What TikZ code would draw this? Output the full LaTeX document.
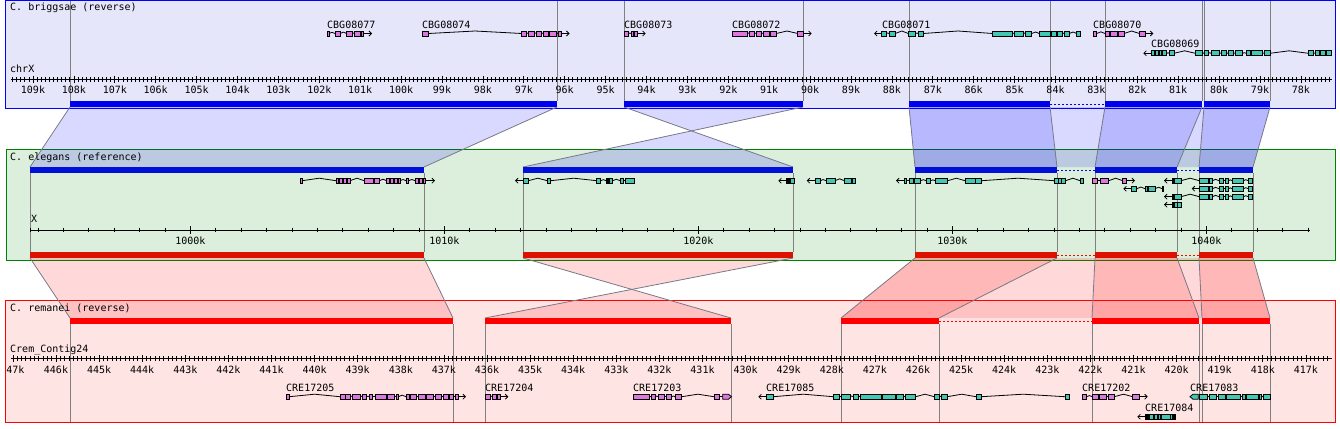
\documentclass[tikz,border=0pt]{standalone}
\usepackage{fontspec}
\setmainfont{DejaVu Sans Mono}
\usetikzlibrary{arrows.meta}
\definecolor{topfill}{RGB}{230,230,250}
\definecolor{midfill}{RGB}{220,238,220}
\definecolor{botfill}{RGB}{255,228,228}
\definecolor{topborder}{RGB}{0,0,255}
\definecolor{midborder}{RGB}{0,128,0}
\definecolor{botborder}{RGB}{255,0,0}
\definecolor{tbar}{RGB}{0,0,240}
\definecolor{mbbar}{RGB}{0,16,216}
\definecolor{mrbar}{RGB}{221,17,0}
\definecolor{brbar}{RGB}{255,0,0}
\definecolor{gmag}{RGB}{221,119,221}
\definecolor{gcyan}{RGB}{64,200,180}
\definecolor{edgegray}{RGB}{120,120,135}
\definecolor{vgray}{RGB}{128,128,128}
\tikzset{
  exonst/.style={draw=black,line width=0.8pt},
  intronst/.style={draw=black,line width=0.8pt},
  rulerst/.style={draw=black,line width=0.8pt},
  lbl/.style={inner sep=0pt,anchor=base west,font=\fontsize{10}{12}\selectfont},
  tlbl/.style={inner sep=0pt,anchor=base,font=\fontsize{10}{12}\selectfont},
  vline/.style={draw=vgray,line width=0.8pt},
  edgeln/.style={draw=edgegray,line width=0.8pt},
  bpoly/.style={fill=blue,fill opacity=0.15},
  rpoly/.style={fill=red,fill opacity=0.15},
  dotb/.style={draw=tbar,line width=1pt,dash pattern=on 2pt off 2pt},
  dotr/.style={draw=brbar,line width=1pt,dash pattern=on 2pt off 2pt},
}
\newcommand\gene[3]{%
  \foreach \a/\b [remember=\b as \pb (initially -1)] in {#3} {%
    \ifdim\pb pt>0pt
      \pgfmathsetmacro\hh{min(2.5,(\a-\pb)/5)}%
      \draw[intronst] (\pb,#1) -- ({(\pb+\a)/2},{#1-\hh}) -- (\a,#1);
    \fi
  }%
  \foreach \a/\b in {#3} {\draw[exonst,fill=#2] (\a,{#1-2.5}) rectangle (\b,{#1+2.5});}%
}
\newcommand\garr[3]{\draw[intronst,-{Straight Barb[length=2.5pt,width=5pt]}] (#1,#3) -- (#2,#3);}
\newcommand\gbx[3]{\draw[exonst,fill=black] (#1,{#3-2.5}) rectangle (#2,{#3+2.5});}
\begin{document}
\begin{tikzpicture}[x=1pt,y=-1pt]
\useasboundingbox[fill=white] (0,0) rectangle (1340,428);
% panels
\draw[draw=topborder,fill=topfill,line width=1pt] (5.5,1) rectangle (1335.5,108.5);
\draw[draw=midborder,fill=midfill,line width=1pt] (6,149.3) rectangle (1335,260);
\draw[draw=botborder,fill=botfill,line width=1pt] (5.5,300.7) rectangle (1335.5,422.3);
% top -> middle polygons
\fill[bpoly] (70,107) -- (557,107) -- (424,167) -- (30,167) -- cycle;
\fill[bpoly] (624,107) -- (803,107) -- (523,167) -- (793,167) -- cycle;
\fill[bpoly] (909,107) -- (1270,107) -- (1253,167) -- (915,167) -- cycle;
\fill[bpoly] (909,107) -- (1050,107) -- (1057,167) -- (915,167) -- cycle;
\fill[bpoly] (1105,107) -- (1202,107) -- (1177,167) -- (1095,167) -- cycle;
\fill[bpoly] (1204,107) -- (1270,107) -- (1253,167) -- (1199,167) -- cycle;
\foreach \u/\v in {70/30,557/424,624/793,803/523,909/915,1050/1057,1105/1095,1202/1177,1204/1199,1270/1253}
  \draw[edgeln] (\u,107) -- (\v,167);
% middle -> bottom polygons
\fill[rpoly] (30,258) -- (424,258) -- (453,318) -- (70,318) -- cycle;
\fill[rpoly] (523,258) -- (793,258) -- (485,318) -- (731,318) -- cycle;
\fill[rpoly] (915,258) -- (1253,258) -- (1270,318) -- (841,318) -- cycle;
\fill[rpoly] (915,258) -- (1057,258) -- (939,318) -- (841,318) -- cycle;
\fill[rpoly] (1095,258) -- (1177,258) -- (1199,318) -- (1092,318) -- cycle;
\fill[rpoly] (1199,258) -- (1253,258) -- (1270,318) -- (1202,318) -- cycle;
\foreach \u/\v in {30/70,424/453,523/731,793/485,915/841,1057/939,1095/1092,1177/1199,1199/1202,1253/1270}
  \draw[edgeln] (\u,258) -- (\v,318);
% vertical lines
\foreach \u in {70,557,624,803,909,1050,1105,1202,1204,1270} \draw[vline] (\u,1.5) -- (\u,101);
\foreach \u in {30,424,523,793,915,1057,1095,1177,1199,1253} \draw[vline] (\u,173) -- (\u,252);
\foreach \u in {70,453,485,731,841,939,1092,1199,1202,1270} \draw[vline] (\u,324) -- (\u,421.8);
% bars
\foreach \a/\b in {70/557,624/803,909/1050,1105/1202,1204/1270} \fill[tbar] (\a,101) rectangle (\b,107);
\draw[dotb] (1050,104) -- (1105,104);
\foreach \a/\b in {30/424,523/793,915/1057,1095/1177,1199/1253} {
  \fill[mbbar] (\a,167) rectangle (\b,173);
  \fill[mrbar] (\a,252) rectangle (\b,258);
}
\draw[dotb,draw=mbbar] (1057,170) -- (1095,170);
\draw[dotb,draw=mbbar] (1177,170) -- (1199,170);
\draw[dotr,draw=mrbar] (1057,255) -- (1095,255);
\draw[dotr,draw=mrbar] (1177,255) -- (1199,255);
\foreach \a/\b in {70/453,485/731,841/939,1092/1199,1202/1270} \fill[brbar] (\a,318) rectangle (\b,324);
\draw[dotr] (939,321) -- (1092,321);
% titles
\node[lbl] (ttop) at (10,11) {C. briggsae (reverse)};
\node[lbl] (tmid) at (10,160.3) {C. elegans (reference)};
\node[lbl] (tbot) at (10,311.7) {C. remanei (reverse)};
\node[lbl] (chrtop) at (10,72.7) {chrX};
\node[lbl] (chrmid) at (31,222.3) {X};
\node[lbl] (chrbot) at (10,352.3) {Crem{\char"5F}Contig24};
% top ruler
\draw[rulerst] (11,79.3) -- (1331.7,79.3);
\foreach \i in {773,...,1095} \draw[rulerst] ({33+(1090-\i)*4.09},77) -- ++(0,5);
\foreach \k in {78,...,109} {
  \draw[rulerst] ({33+(109-\k)*40.9},75.8) -- ++(0,7);
  \node[tlbl] (tt\k) at ({33+(109-\k)*40.9},93.7) {\k k};
}
% middle ruler
\draw[rulerst] (30,230) -- (1310,230);
\foreach \k in {994,...,1044} \draw[rulerst] ({190.3+(\k-1000)*25.4},227.7) -- ++(0,4.6);
\draw[rulerst] (30,227.7) -- ++(0,4.6);
\foreach \k in {1000,1010,1020,1030,1040} {
  \draw[rulerst] ({190.3+(\k-1000)*25.4},226) -- ++(0,8);
  \node[tlbl] (mt\k) at ({190.3+(\k-1000)*25.4},244.3) {\k k};
}
% bottom ruler
\draw[rulerst] (11,358.7) -- (1331.7,358.7);
\foreach \i in {4165,...,4470} \draw[rulerst] ({56+(4460-\i)*4.31},356.4) -- ++(0,5);
\foreach \k in {417,...,447} \draw[rulerst] ({56+(446-\k)*43.1},355.2) -- ++(0,7);
\foreach \k in {417,...,446} \node[tlbl] (bt\k) at ({56+(446-\k)*43.1},373.3) {\k k};
\node[tlbl] (bt447) at (15.3,373.3) {47k};
% top genes
\node[lbl] (g77) at (327,28.3) {CBG08077};
\node[lbl] (g74) at (422,28.3) {CBG08074};
\node[lbl] (g73) at (624,28.3) {CBG08073};
\node[lbl] (g72) at (732,28.3) {CBG08072};
\node[lbl] (g71) at (882,28.3) {CBG08071};
\node[lbl] (g70) at (1093,28.3) {CBG08070};
\node[lbl] (g69) at (1151,47.7) {CBG08069};
\gene{33.5}{gmag}{327/329, 335/340, 346.7/352.3, 354.3/360, 361.7/363.3}
\garr{363.3}{372}{33.5}
\gene{33.5}{gmag}{422.5/428.5, 521.7/526, 528.3/534, 536.7/541.7, 543.7/548, 549.7/556.7, 558.3/561.7}
\garr{561.7}{569.5}{33.5}
\gene{33.5}{gmag}{624.3/628.7, 631/633.3, 634.7/637.3}
\garr{637.3}{645.7}{33.5}
\gene{33.5}{gmag}{732.3/747.3, 749.3/754, 756/761.7, 763.3/769, 770.7/776.3, 797.7/803.3}
\garr{803.3}{811.7}{33.5}
\garr{881.7}{874}{33.5}
\gene{33.5}{gcyan}{881.7/886.3, 889/895.3, 908.3/915.7, 918.3/923.3, 992.7/1012.7, 1014.3/1023.3, 1025.3/1031.7, 1039.3/1050, 1051.3/1056, 1057.7/1062.7, 1064.3/1069.3, 1076.7/1080.7}
\gene{33.5}{gmag}{1093.3/1096.7, 1105/1109.3, 1110/1117.3, 1118/1124, 1139.3/1145.7}
\garr{1145.7}{1153.3}{33.5}
\garr{1151.7}{1143.3}{53.3}
\gene{53.3}{gcyan}{1151.7/1154.3, 1155.3/1158, 1159/1161.7, 1162.7/1166.7, 1169.3/1174, 1195.3/1202.7, 1204.3/1208.3, 1211/1219.3, 1221/1226.7, 1228.3/1233.3, 1235/1242.7, 1246/1250, 1251/1262.3, 1264/1270, 1308.3/1313.3, 1315/1319.3, 1320.7/1325.3, 1326.7/1331.7}
% middle genes
\gene{180.7}{gmag}{300/302.3, 336/338, 339/342, 343/346, 347/350, 364/373.3, 374/379.3, 386.7/389, 390/393, 394/397, 398/400, 406/408.7, 415/418, 419/422, 423/425}
\garr{425}{435}{180.7}
\garr{523.3}{515}{180.7}
\gene{180.7}{gcyan}{523.3/528.3, 547.3/550.7, 596.7/600.7, 606/609.3, 609.3/612.7, 620/623.3, 625/634.3}
\gbx{606}{609.3}{180.7}
\garr{786}{778.3}{180.7}
\gene{180.7}{gcyan}{786/789.3, 790.7/794}
\gbx{786}{789.3}{180.7}
\garr{815}{806.7}{180.7}
\gene{180.7}{gcyan}{815/820.3, 826/835, 844.3/851.7, 852.5/855}
\garr{904}{896}{180.7}
\gene{180.7}{gcyan}{904/906.7, 909.3/913.3, 914.7/920.7, 926/930.7, 935/947.7, 965/975, 975.5/981.7, 1054.3/1058.3, 1058.3/1061.7, 1061.7/1065.7, 1080/1083.3}
\gene{180.7}{gmag}{1092/1097.7, 1100/1108.7, 1122.7/1126.7}
\garr{1126.7}{1135}{180.7}
\garr{1172.3}{1164}{180.7}
\gene{180.7}{gcyan}{1172.3/1174.3, 1174.3/1181, 1199.3/1208.3, 1209/1212.3, 1219/1223.3, 1225/1228.3, 1232.3/1243.3, 1248.3/1252.7}
\gbx{1172.3}{1174.3}{180.7}
\garr{1131.7}{1123.3}{188.7}
\gene{188.7}{gcyan}{1131.7/1136.7, 1145/1147.7, 1148.3/1155, 1162.2/1162.9}
\garr{1199.3}{1191.7}{188.7}
\gene{188.7}{gcyan}{1199.3/1208.3, 1209/1212.3, 1219/1223.3, 1225/1228.3, 1232.3/1243.3, 1248.3/1252.7}
\garr{1172.3}{1164}{196.7}
\gene{196.7}{gcyan}{1172.3/1174.3, 1174.3/1181, 1199.3/1208.3, 1209/1212.3, 1219/1223.3, 1225/1228.3, 1232.3/1243.3, 1248.3/1252.7}
\gbx{1172.3}{1174.3}{196.7}
\garr{1172.3}{1164}{204.7}
\gene{204.7}{gcyan}{1172.3/1174.3, 1174.3/1177.5, 1177.5/1181.7}
\gbx{1172.3}{1174.3}{204.7}
% bottom genes
\node[lbl] (r05) at (286,391) {CRE17205};
\node[lbl] (r04) at (485,391) {CRE17204};
\node[lbl] (r03) at (633,391) {CRE17203};
\node[lbl] (r85) at (766,391) {CRE17085};
\node[lbl] (r02) at (1082,391) {CRE17202};
\node[lbl] (r83) at (1190,391) {CRE17083};
\node[lbl] (r84) at (1145,411) {CRE17084};
\gene{396.7}{gmag}{286/289.3, 340/345, 345/350, 352.7/360, 362.7/366.7, 369.3/372.7, 375/386, 387.7/394, 396/398.3, 406/409.3, 410.7/416.7, 418.3/425, 426.7/433.3, 435/441.7, 443.3/448.3, 449/453.3, 455.3/458.3}
\garr{458.3}{466}{396.7}
\gene{396.7}{gmag}{485/490, 492.7/496, 497.3/500.7}
\garr{500.7}{508.3}{396.7}
\gene{396.7}{gmag}{633/649.3, 651/655.3, 658.3/664, 666/671.7, 675/681.7, 714/719.3}
\draw[intronst] (719.3,396.7) -- (722.7,396.7);
\draw[exonst,fill=gmag] (722.7,394.2) -- (728.5,394.2) -- (731.5,396.7) -- (728.5,399.2) -- (722.7,399.2) -- cycle;
\garr{766}{758.3}{396.7}
\gene{396.7}{gcyan}{766/773.3, 833.3/839.3, 841/850, 853.3/858.3, 860.7/881.7, 882.7/895, 896/903.3, 905/915.7, 934.3/939.3, 941.7/947.3, 976/981.3, 1065/1069.3}
\gene{396.7}{gmag}{1082.3/1086.7, 1092.3/1098.3, 1099/1106.7, 1108.3/1114.3, 1132.7/1139.3}
\garr{1139.3}{1147.7}{396.7}
\draw[exonst,fill=gcyan] (1198.3,394.2) -- (1193,394.2) -- (1190,396.7) -- (1193,399.2) -- (1198.3,399.2) -- cycle;
\gene{396.7}{gcyan}{1199.3/1207.3, 1209/1216, 1218.3/1225, 1226.7/1240.7, 1242.3/1245.7, 1246.7/1258.3, 1259.3/1261.7, 1263.3/1270.7}
\garr{1145.7}{1137.3}{416.7}
\gene{416.7}{gcyan}{1145.7/1149.3, 1149.3/1153.3, 1154/1157.3, 1158.3/1160.7, 1161.7/1170, 1170/1175}
\gbx{1145.7}{1149.3}{416.7}
\gbx{1172}{1175}{416.7}
\end{tikzpicture}
\end{document}
